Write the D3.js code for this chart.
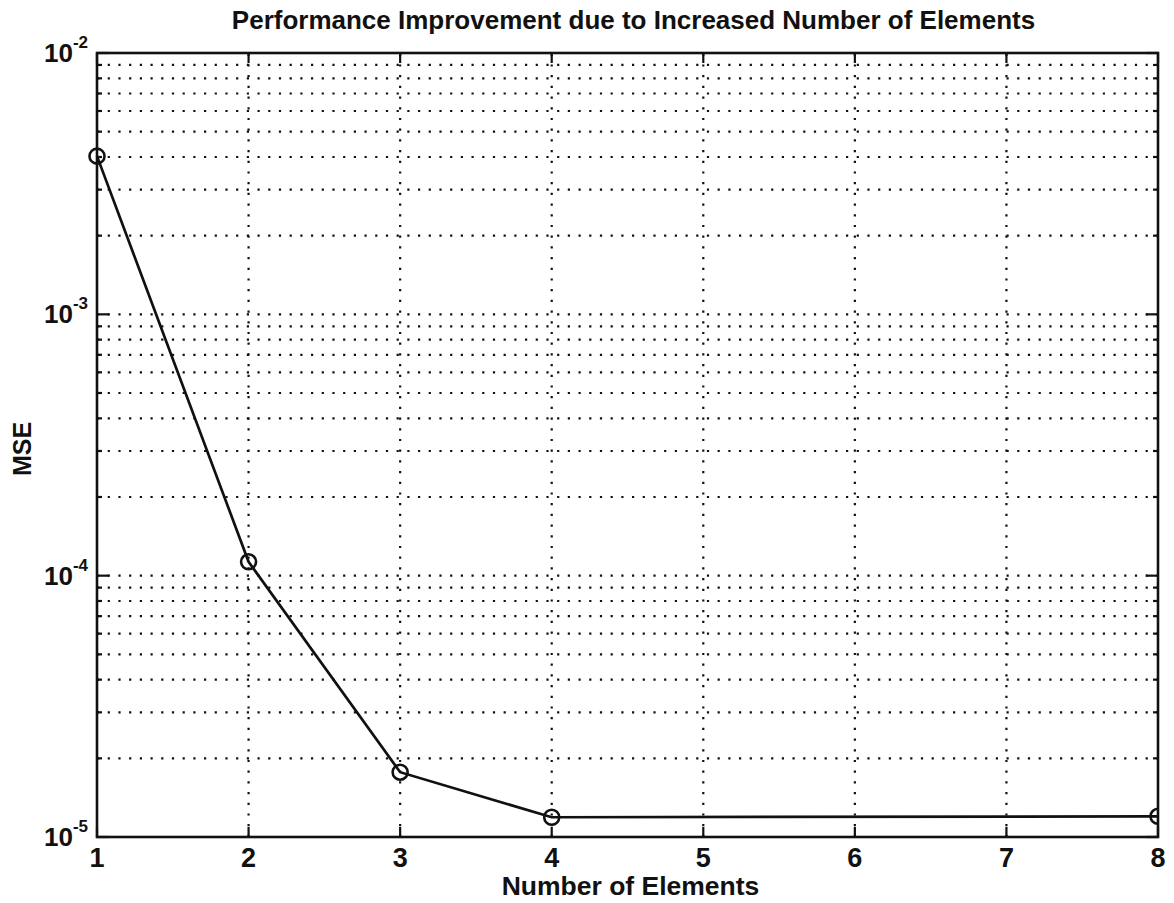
<!DOCTYPE html>
<html>
<head>
<meta charset="utf-8">
<script src="https://cdnjs.cloudflare.com/ajax/libs/d3/7.8.5/d3.min.js"></script>
<style>
  body { margin: 0; background: #fff; }
  text { font-family: "Liberation Sans", Arial, Helvetica, sans-serif; font-weight: bold; fill: #111; }
</style>
</head>
<body>
<div id="chart"></div>
<script>
// data
var elements = [1, 2, 3, 4, 8];
var mse = [4.03e-3, 1.13e-4, 1.77e-5, 1.19e-5, 1.2e-5];
var xTicks = [1, 2, 3, 4, 5, 6, 7, 8];
var yMajor = [-5, -4, -3, -2];   // exponents of the labelled decades

var svgWidth = 1174, svgHeight = 903;
var margin = {top: 53, right: 16, bottom: 66, left: 97};
var chartWidth = svgWidth - margin.left - margin.right;
var chartHeight = svgHeight - margin.top - margin.bottom;

var svg = d3.select("#chart").append("svg")
    .attr("width", svgWidth)
    .attr("height", svgHeight);

var chartGroup = svg.append("g")
    .attr("transform", `translate(${margin.left},${margin.top})`);

var xScale = d3.scaleLinear().domain([1, 8]).range([0, chartWidth]);
var yScale = d3.scaleLog().domain([1e-5, 1e-2]).range([chartHeight, 0]);

// all log ticks (majors + minors 2..9)
var yAll = [];
for (var k = -5; k < -2; k++) {
    for (var m = 1; m < 10; m++) yAll.push(m * Math.pow(10, k));
}
yAll.push(1e-2);

var dots = "2.2 8.5";

// horizontal dotted grid
chartGroup.selectAll(".hgrid")
    .data(yAll.filter(v => v > 1e-5 && v < 1e-2))
    .enter().append("line")
    .attr("class", "hgrid")
    .attr("x1", 0).attr("x2", chartWidth)
    .attr("y1", d => yScale(d)).attr("y2", d => yScale(d))
    .attr("stroke", "#111").attr("stroke-width", 2.2)
    .attr("stroke-dasharray", dots);

// vertical dotted grid
chartGroup.selectAll(".vgrid")
    .data(xTicks.filter(v => v > 1 && v < 8))
    .enter().append("line")
    .attr("class", "vgrid")
    .attr("x1", d => xScale(d)).attr("x2", d => xScale(d))
    .attr("y1", chartHeight).attr("y2", 0)
    .attr("stroke", "#111").attr("stroke-width", 2.2)
    .attr("stroke-dasharray", dots);

// tick marks on all four sides (inward)
function isMajor(v) { return Math.abs(Math.log10(v) - Math.round(Math.log10(v))) < 1e-9; }
yAll.forEach(function (v) {
    var len = isMajor(v) ? 12 : 5;
    var y = yScale(v);
    chartGroup.append("line").attr("x1", 0).attr("x2", len).attr("y1", y).attr("y2", y)
        .attr("stroke", "#111").attr("stroke-width", 2.2);
    chartGroup.append("line").attr("x1", chartWidth).attr("x2", chartWidth - len).attr("y1", y).attr("y2", y)
        .attr("stroke", "#111").attr("stroke-width", 2.2);
});
xTicks.forEach(function (v) {
    var x = xScale(v);
    chartGroup.append("line").attr("x1", x).attr("x2", x).attr("y1", chartHeight).attr("y2", chartHeight - 10)
        .attr("stroke", "#111").attr("stroke-width", 2.2);
    chartGroup.append("line").attr("x1", x).attr("x2", x).attr("y1", 0).attr("y2", 10)
        .attr("stroke", "#111").attr("stroke-width", 2.2);
});

// box
chartGroup.append("rect")
    .attr("width", chartWidth).attr("height", chartHeight)
    .attr("fill", "none").attr("stroke", "#111").attr("stroke-width", 2.6);

// x tick labels
chartGroup.selectAll(".xlab")
    .data(xTicks)
    .enter().append("text")
    .attr("class", "xlab")
    .attr("x", d => xScale(d))
    .attr("y", chartHeight + 30)
    .attr("text-anchor", "middle")
    .attr("font-size", "27px")
    .text(d => d);

// y tick labels 10^k
yMajor.forEach(function (e) {
    var t = chartGroup.append("text")
        .attr("x", -53)
        .attr("y", yScale(Math.pow(10, e)) + 9)
        .attr("font-size", "26px");
    t.append("tspan").text("10");
    t.append("tspan").attr("dy", -14).attr("font-size", "17px").text("-" + Math.abs(e));
});

// line + markers
svg.append("defs").append("clipPath").attr("id", "clip")
    .append("rect").attr("x", -30).attr("y", -30)
    .attr("width", chartWidth + 30).attr("height", chartHeight + 60);

var pts = elements.map((d, i) => [d, mse[i]]);
var line = d3.line().x(d => xScale(d[0])).y(d => yScale(d[1]));

chartGroup.append("path")
    .datum(pts)
    .attr("d", line)
    .attr("fill", "none")
    .attr("stroke", "#111")
    .attr("stroke-width", 2.7);

chartGroup.append("g").attr("clip-path", "url(#clip)")
    .selectAll("circle")
    .data(pts)
    .enter().append("circle")
    .attr("cx", d => xScale(d[0]))
    .attr("cy", d => yScale(d[1]))
    .attr("r", 7.5)
    .attr("fill", "none")
    .attr("stroke", "#111")
    .attr("stroke-width", 2.6);

// title
svg.append("text")
    .attr("x", margin.left + chartWidth / 2 + 6)
    .attr("y", 29)
    .attr("text-anchor", "middle")
    .attr("font-size", "26px")
    .text("Performance Improvement due to Increased Number of Elements");

// x label
svg.append("text")
    .attr("x", margin.left + chartWidth / 2 + 3)
    .attr("y", 895)
    .attr("text-anchor", "middle")
    .attr("font-size", "26.5px")
    .text("Number of Elements");

// y label
svg.append("text")
    .attr("text-anchor", "middle")
    .attr("transform", `translate(31,${449})rotate(-90)`)
    .attr("font-size", "25px")
    .text("MSE");
</script>
</body>
</html>
